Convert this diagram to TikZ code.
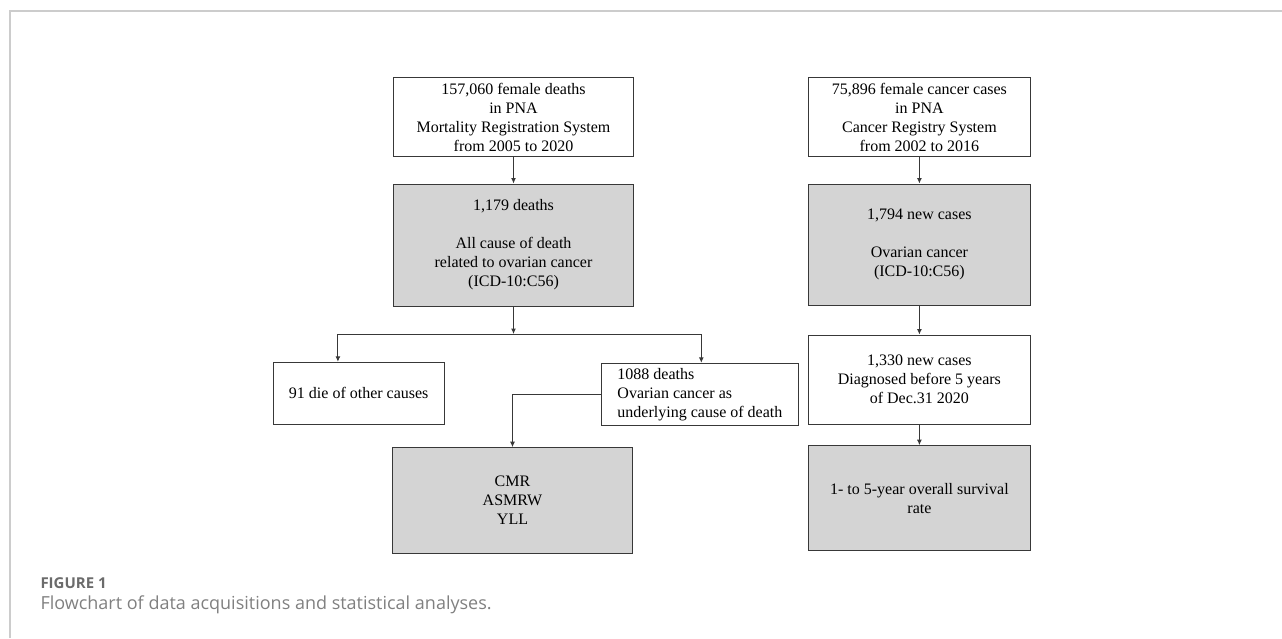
\documentclass[tikz,border=0pt]{standalone}
\usepackage{fontspec}
\setmainfont{Liberation Serif}
\newfontfamily\capfont{Open Sans}
\usepackage{tikz}
\usetikzlibrary{arrows.meta}

\begin{document}
\begin{tikzpicture}
        [x=1pt, y=-1pt, line width=1pt, font=\fontsize{16}{19}\selectfont,
         box/.style={draw=black!78, rectangle, inner sep=0pt, align=center},
         greybox/.style={box, fill=black!17},
         arr/.style={draw=black!78, -{Latex[length=5.5pt,width=5pt]}}]
        \useasboundingbox (0,0) rectangle (1282,638);
        \draw[black!20, line width=1.3pt] (10,638) -- (10,11) -- (1282,11);

        \node[box, minimum width=240.7, minimum height=79.3] (m1) at (513.5,117.3)
             {157,060 female deaths\\ in PNA\\ Mortality Registration System\\ from 2005 to 2020};
        \node[greybox, minimum width=240.7, minimum height=122] (m2) at (513.5,245)
             {1,179 deaths\\[19pt] All cause of death\\ related to ovarian cancer\\ (ICD-10:C56)};
        \node[box, minimum width=170.9, minimum height=62] (m3) at (358.7,393.3) {91 die of other causes};
        \node[box, minimum width=196.4, minimum height=62, align=left] (m4) at (699.9,394.3)
             {1088 deaths\\ Ovarian cancer as\\ underlying cause of death};
        \node[greybox, minimum width=240.7, minimum height=105.6] (m5) at (512.5,500.5) {CMR\\ ASMRW\\ YLL};

        \node[box, minimum width=222, minimum height=79] (r1) at (919.4,117.2)
             {75,896 female cancer cases\\ in PNA\\ Cancer Registry System\\ from 2002 to 2016};
        \node[greybox, minimum width=222, minimum height=121.3] (r2) at (919.4,244.7)
             {1,794 new cases\\[19pt] Ovarian cancer\\ (ICD-10:C56)};
        \node[box, minimum width=222, minimum height=89.3] (r3) at (919.4,379.7)
             {1,330 new cases\\ Diagnosed before 5 years\\ of Dec.31 2020};
        \node[greybox, minimum width=222, minimum height=105.3] (r4) at (919.4,498.3)
             {1- to 5-year overall survival\\ rate};

        \coordinate (split) at (513.5,334);

        \foreach \from/\to in {m1/m2,r1/r2,r2/r3,r3/r4}
        \draw[arr] (\from.south) -- (\to.north);
        \draw[arr] (m2.south) -- (split);
        \draw[arr] (split) -| ([xshift=-20.8pt]m3.north);
        \draw[arr] (split) -| ([xshift=1.4pt]m4.north);
        \draw[arr] (m4.west) -| (m5.north);

        \node[anchor=base west, inner sep=0pt, text=black!58, font=\capfont\bfseries\fontsize{15}{17}\selectfont]
             (fig) at (40,588.3) {FIGURE 1};
        \node[anchor=base west, inner sep=0pt, text=black!50, font=\capfont\fontsize{18}{21}\selectfont]
             (cap) at (40,609.5) {Flowchart of data acquisitions and statistical analyses.};
    \end{tikzpicture}
\end{document}
